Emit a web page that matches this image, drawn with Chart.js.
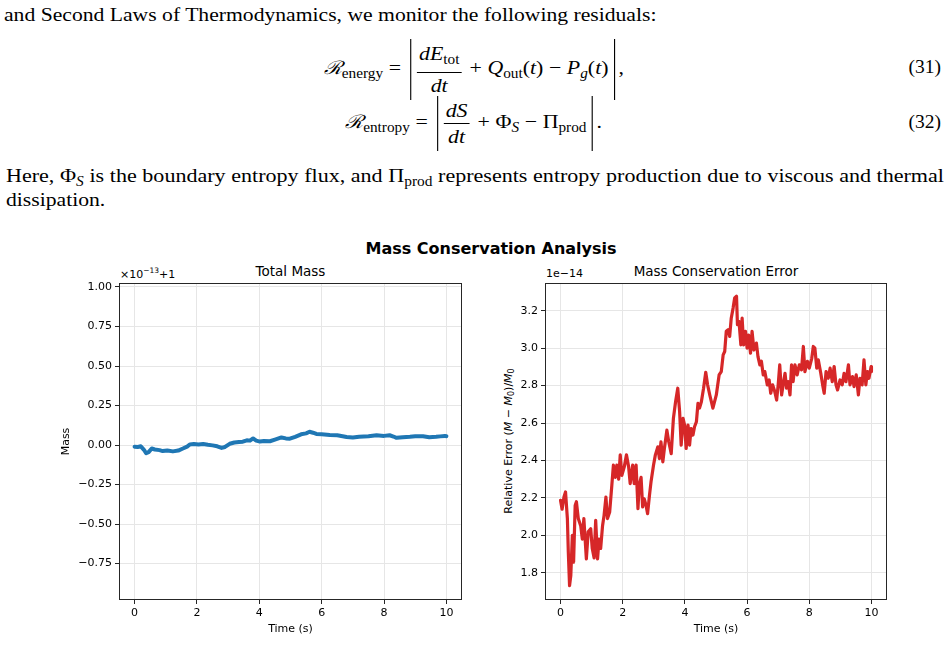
<!DOCTYPE html>
<html>
<head>
<meta charset="utf-8">
<script src="https://cdn.jsdelivr.net/npm/chart.js@4.4.1/dist/chart.umd.min.js"></script>
<style>
  html, body { margin: 0; padding: 0; background: #fff; }
  body { width: 947px; height: 664px; position: relative; overflow: hidden; color: #000; }
  .serif { position: absolute; font-family: "Liberation Serif", "DejaVu Serif", serif; font-size: 19.5px; line-height: 24px; white-space: nowrap; }
  .wide { display: inline-block; transform: scaleX(1.11); transform-origin: left center; }
  .sub { font-size: 0.7em; vertical-align: -0.3em; font-style: normal; }
  .cal { font-family: "DejaVu Serif", serif; font-style: italic; font-size: 0.95em; }
  .eq { position: absolute; left: 0; width: 947px; text-align: center; font-family: "Liberation Serif", "DejaVu Serif", serif; font-size: 19.5px; white-space: nowrap; }
  .eq > .inner { display: inline-block; transform: scaleX(1.12); transform-origin: center center; }
  .frac { display: inline-block; vertical-align: middle; text-align: center; margin: 0 2px; }
  .frac > span { display: block; line-height: 25px; padding: 0 2px; }
  .frac > .den { border-top: 1px solid #000; }
  .abs { display: inline-block; vertical-align: middle; border-left: 1.3px solid #000; border-right: 1.3px solid #000; padding: 2px 5px 2px 3px; margin: 0 3px; }
  .op { margin: 0 5px; }
  .eqno { position: absolute; right: 6px; font-family: "Liberation Serif", serif; font-size: 19.5px; }
  .para { position: absolute; left: 6px; font-family: "Liberation Serif", "DejaVu Serif", serif; font-size: 19.5px; line-height: 24px; }
  .just { width: 830px; text-align: justify; text-align-last: justify; white-space: normal; transform: scaleX(1.13); transform-origin: left center; }
  .mpl { position: absolute; font-family: "DejaVu Sans", sans-serif; color: #000; white-space: nowrap; }
  .box { position: absolute; }
</style>
</head>
<body>

<div class="serif" style="left:4px; top:3px;"><span class="wide">and Second Laws of Thermodynamics, we monitor the following residuals:</span></div>

<div class="eq" style="top:39px;"><span class="inner">
  <span class="cal">ℛ</span><span class="sub">energy</span><span class="op">=</span><span class="abs"><span class="frac"><span class="num"><i>dE</i><span class="sub">tot</span></span><span class="den"><i>dt</i></span></span><span class="op">+</span><i>Q</i><span class="sub">out</span>(<i>t</i>)<span class="op">−</span><i>P</i><span class="sub"><i>g</i></span>(<i>t</i>)</span>,
</span></div>
<div class="eqno" style="top:56px;">(31)</div>

<div class="eq" style="top:96px;"><span class="inner">
  <span class="cal">ℛ</span><span class="sub">entropy</span><span class="op">=</span><span class="abs"><span class="frac"><span class="num"><i>dS</i></span><span class="den"><i>dt</i></span></span><span class="op">+</span>Φ<span class="sub"><i>S</i></span><span class="op">−</span>Π<span class="sub">prod</span></span>.
</span></div>
<div class="eqno" style="top:111px;">(32)</div>

<div class="para just" style="top:164px;">Here, Φ<span class="sub"><i>S</i></span> is the boundary entropy flux, and Π<span class="sub">prod</span> represents entropy production due to viscous and thermal</div>
<div class="para" style="top:188px;"><span class="wide">dissipation.</span></div>

<div class="mpl" style="left:0; width:982px; top:239px; text-align:center; font-weight:bold; font-size:16px;">Mass Conservation Analysis</div>
<div class="mpl" style="left:119px; width:343px; top:263px; text-align:center; font-size:13.5px;">Total Mass</div>
<div class="mpl" style="left:545px; width:342px; top:263px; text-align:center; font-size:13.5px;">Mass Conservation Error</div>
<div class="mpl" style="left:120px; top:266px; font-size:11px;">×10<sup style="font-size:7.5px;">−13</sup>+1</div>
<div class="mpl" style="left:546px; top:267px; font-size:11px;">1e−14</div>
<div class="mpl" style="left:509px; top:441px; font-size:11px; transform:translate(-50%,-50%) rotate(-90deg);">Relative Error (<i>M</i> − <i>M</i><span style="font-size:8px; vertical-align:-2px;">0</span>)/<i>M</i><span style="font-size:8px; vertical-align:-2px;">0</span></div>

<div class="box" style="left:40px; top:270px; width:432px; height:370px;"><canvas id="massChart" width="432" height="370"></canvas></div>
<div class="box" style="left:470px; top:270px; width:427px; height:370px;"><canvas id="errChart" width="427" height="370"></canvas></div>

<script>
// total mass, shown as offset: value x 1e-13 + 1
const massTime = [
  0, 0.1, 0.2, 0.3, 0.37, 0.45, 0.55, 0.65, 0.8, 0.9,
  1.05, 1.23, 1.4, 1.55, 1.7, 1.77, 1.9, 2.05, 2.2, 2.35,
  2.5, 2.65, 2.79, 2.9, 3.05, 3.2, 3.35, 3.47, 3.6, 3.7,
  3.8, 3.9, 4.02, 4.15, 4.34, 4.5, 4.71, 4.85, 4.98, 5.15,
  5.34, 5.5, 5.61, 5.72, 5.83, 6.0, 6.26, 6.5, 6.8, 7.0,
  7.2, 7.5, 7.76, 8.0, 8.18, 8.3, 8.4, 8.6, 8.83, 9.0,
  9.25, 9.45, 9.67, 9.8, 9.95, 10.0
];
const massOffset = [
  -0.010, -0.012, -0.008, -0.030, -0.052, -0.045, -0.022, -0.028, -0.032, -0.038,
  -0.034, -0.040, -0.035, -0.022, -0.008, 0.004, 0.006, 0.003, 0.007, 0.002,
  -0.002, -0.008, -0.018, -0.012, 0.008, 0.016, 0.020, 0.021, 0.030, 0.028,
  0.042, 0.028, 0.022, 0.026, 0.024, 0.034, 0.048, 0.042, 0.040, 0.052,
  0.068, 0.074, 0.084, 0.078, 0.070, 0.068, 0.064, 0.062, 0.051, 0.048,
  0.053, 0.056, 0.062, 0.058, 0.062, 0.054, 0.046, 0.050, 0.052, 0.055,
  0.056, 0.050, 0.052, 0.055, 0.058, 0.056
];

// relative error (M - M0)/M0, in units of 1e-14
const errTime = [
  0, 0.05, 0.11, 0.16, 0.22, 0.25, 0.29, 0.33, 0.38, 0.42,
  0.47, 0.51, 0.57, 0.65, 0.70, 0.75, 0.83, 0.89, 0.97, 1.02,
  1.08, 1.13, 1.19, 1.24, 1.29, 1.35, 1.40, 1.46, 1.51, 1.58,
  1.65, 1.70, 1.76, 1.81, 1.87, 1.92, 1.97, 2.05, 2.12, 2.19,
  2.24, 2.32, 2.37, 2.43, 2.49, 2.53, 2.59, 2.64, 2.69, 2.75,
  2.80, 2.86, 2.91, 2.99, 3.05, 3.13, 3.18, 3.23, 3.29, 3.34,
  3.42, 3.48, 3.56, 3.63, 3.70, 3.77, 3.83, 3.88, 3.94, 3.99,
  4.04, 4.10, 4.15, 4.20, 4.26, 4.31, 4.37, 4.42, 4.47, 4.53,
  4.60, 4.67, 4.73, 4.80, 4.90, 5.01, 5.10, 5.17, 5.23, 5.28,
  5.33, 5.39, 5.44, 5.49, 5.55, 5.60, 5.66, 5.69, 5.74, 5.80,
  5.84, 5.89, 5.95, 6.00, 6.05, 6.11, 6.16, 6.22, 6.30, 6.35,
  6.41, 6.46, 6.52, 6.57, 6.65, 6.71, 6.76, 6.82, 6.89, 6.95,
  7.00, 7.05, 7.11, 7.16, 7.22, 7.27, 7.32, 7.38, 7.43, 7.48,
  7.54, 7.61, 7.68, 7.75, 7.81, 7.86, 7.94, 8.00, 8.08, 8.13,
  8.18, 8.24, 8.29, 8.37, 8.43, 8.48, 8.54, 8.61, 8.67, 8.74,
  8.80, 8.86, 8.91, 8.99, 9.06, 9.12, 9.18, 9.26, 9.31, 9.39,
  9.44, 9.51, 9.58, 9.63, 9.70, 9.76, 9.82, 9.87, 9.92, 9.99,
  10.0
];
const errValue = [
  2.187, 2.14, 2.205, 2.232, 2.09, 1.91, 1.732, 1.786, 2.0, 1.857,
  2.16, 2.18, 2.09, 2.05, 1.98, 2.09, 1.875, 2.02, 2.036, 1.93,
  1.88, 2.08, 1.875, 1.98, 1.93, 2.05, 2.107, 2.205, 2.09, 2.125,
  2.268, 2.375, 2.31, 2.375, 2.30, 2.43, 2.32, 2.366, 2.43, 2.366,
  2.277, 2.375, 2.277, 2.375, 2.143, 2.268, 2.31, 2.152, 2.196, 2.16,
  2.116, 2.214, 2.286, 2.375, 2.43, 2.473, 2.41, 2.50, 2.393, 2.464,
  2.562, 2.50, 2.437, 2.625, 2.714, 2.786, 2.661, 2.482, 2.625, 2.589,
  2.464, 2.589, 2.482, 2.571, 2.536, 2.58, 2.607, 2.705, 2.68, 2.714,
  2.786, 2.871, 2.804, 2.75, 2.68, 2.75, 2.857, 2.875, 2.964, 2.982,
  3.09, 3.098, 3.063, 3.16, 3.214, 3.268, 3.277, 3.125, 3.143, 3.018,
  3.16, 3.018, 3.09, 3.0, 3.07, 2.973, 3.09, 2.99, 3.027, 2.955,
  2.911, 2.93, 2.857, 2.875, 2.804, 2.83, 2.759, 2.804, 2.768, 2.723,
  2.804, 2.911, 2.75, 2.804, 2.866, 2.786, 2.821, 2.75, 2.911, 2.821,
  2.911, 2.857, 2.911, 2.884, 3.009, 2.875, 2.93, 2.893, 2.946, 3.009,
  3.0, 2.893, 2.938, 2.866, 2.804, 2.759, 2.875, 2.839, 2.893, 2.821,
  2.902, 2.804, 2.777, 2.83, 2.804, 2.866, 2.821, 2.911, 2.804, 2.848,
  2.795, 2.857, 2.75, 2.839, 2.804, 2.938, 2.804, 2.875, 2.839, 2.902,
  2.875
];

const timeTicks = [0, 2, 4, 6, 8, 10];
const massTicks = [-0.75, -0.5, -0.25, 0, 0.25, 0.5, 0.75, 1.0];
const errTicks = [1.8, 2.0, 2.2, 2.4, 2.6, 2.8, 3.0, 3.2];

const tickFont = { family: 'DejaVu Sans', size: 11 };
const minus = s => s.replace('-', '\u2212');

// draw all four spines on top of the data, like matplotlib
const frame = {
  id: 'frame',
  afterDatasetsDraw(chart) {
    const { ctx, chartArea: a } = chart;
    ctx.save();
    ctx.strokeStyle = '#262626';
    ctx.lineWidth = 1;
    ctx.strokeRect(a.left + 0.5, a.top + 0.5, a.right - a.left - 1, a.bottom - a.top - 1);
    ctx.restore();
  }
};

function axisX() {
  return {
    type: 'linear', min: -0.5, max: 10.5,
    afterFit: s => { s.height = 40; },
    afterBuildTicks: s => { s.ticks = timeTicks.map(v => ({ value: v })); },
    ticks: { callback: v => String(v), color: '#000', font: tickFont, padding: 3, autoSkip: false, maxRotation: 0 },
    grid: { color: '#e6e6e6', tickColor: '#262626', tickLength: 4, lineWidth: 1 },
    border: { display: false },
    title: { display: true, text: 'Time (s)', color: '#000', font: tickFont, padding: { bottom: 4 } }
  };
}

function makeChart(id, xs, ys, color, width, yOpts) {
  const points = xs.map((x, i) => ({ x: x, y: ys[i] }));
  return new Chart(document.getElementById(id), {
    type: 'line',
    data: { datasets: [{ data: points, borderColor: color, borderWidth: width, pointRadius: 0, tension: 0, borderJoinStyle: 'round', borderCapStyle: 'round' }] },
    options: {
      responsive: false, animation: false, devicePixelRatio: 1,
      layout: { padding: { top: 13, right: 10, left: 0, bottom: 0 } },
      plugins: { legend: { display: false }, tooltip: { enabled: false } },
      scales: { x: axisX(), y: yOpts }
    },
    plugins: [frame]
  });
}

makeChart('massChart', massTime, massOffset, '#1f77b4', 4, {
  type: 'linear', min: -0.98, max: 1.025,
  afterFit: s => { s.width = 79; },
  afterBuildTicks: s => { s.ticks = massTicks.map(v => ({ value: v })); },
  ticks: { callback: v => minus(v.toFixed(2)), color: '#000', font: tickFont, padding: 3, autoSkip: false },
  grid: { color: '#e6e6e6', tickColor: '#262626', tickLength: 4, lineWidth: 1 },
  border: { display: false },
  title: { display: true, text: 'Mass', color: '#000', font: tickFont, padding: { top: 20 } }
});

makeChart('errChart', errTime, errValue, '#d62728', 3.2, {
  type: 'linear', min: 1.655, max: 3.348,
  afterFit: s => { s.width = 75; },
  afterBuildTicks: s => { s.ticks = errTicks.map(v => ({ value: v })); },
  ticks: { callback: v => v.toFixed(1), color: '#000', font: tickFont, padding: 3, autoSkip: false },
  grid: { color: '#e6e6e6', tickColor: '#262626', tickLength: 4, lineWidth: 1 },
  border: { display: false }
});
</script>
</body>
</html>
